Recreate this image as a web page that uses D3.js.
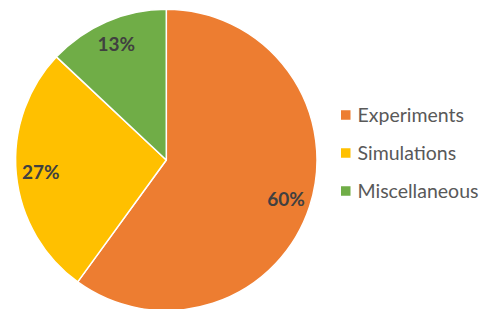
<!DOCTYPE html>
<html><head><meta charset="utf-8">
<script src="https://cdn.jsdelivr.net/npm/d3@7"></script>
<style>body{margin:0;background:#fff}svg{display:block}</style>
</head><body>
<svg id="chart" width="491" height="309"></svg>
<script>
const categories = ["Experiments", "Simulations", "Miscellaneous"];
const values = [60, 27, 13];
const colors = ["#ED7D31", "#FFC000", "#70AD47"];

const svg = d3.select("#chart");
const cx = 166.3, cy = 160, r = 150.7;
const g = svg.append("g").attr("transform", `translate(${cx},${cy})`);

const pie = d3.pie().sort(null).value(d => d.v);
const data = pie(categories.map((c, i) => ({c, v: values[i], col: colors[i]})));
const arc = d3.arc().innerRadius(0).outerRadius(r);
const labelArc = d3.arc().innerRadius(126).outerRadius(126);
const total = d3.sum(values);

g.selectAll("path.slice").data(data).join("path")
  .attr("class", "slice")
  .attr("d", arc)
  .attr("fill", d => d.data.col)
  .attr("stroke", "#fff")
  .attr("stroke-width", 1.5)
  .attr("stroke-linejoin", "round");

g.selectAll("text.lbl").data(data).join("text")
  .attr("class", "lbl")
  .attr("transform", d => `translate(${labelArc.centroid(d)})`)
  .attr("text-anchor", "middle")
  .attr("dy", "0.35em")
  .attr("font-family", "Lato, 'Open Sans', sans-serif")
  .attr("font-weight", "bold")
  .attr("font-size", 19)
  .attr("fill", "#404040")
  .text(d => Math.round(d.data.v / total * 100) + "%");

const legend = svg.append("g").attr("transform", "translate(341,115)");
const rowY = d3.scalePoint().domain(categories).range([0, 76]);
const item = legend.selectAll("g").data(categories).join("g")
  .attr("transform", d => `translate(0,${rowY(d)})`);
item.append("rect").attr("x", 0).attr("y", -4.75).attr("width", 9.5).attr("height", 9.5)
  .attr("fill", (d, i) => colors[i]);
item.append("text").attr("x", 16.5).attr("dy", "0.35em")
  .attr("font-family", "Lato, 'Open Sans', sans-serif")
  .attr("font-size", 19.5)
  .attr("fill", "#595959")
  .text(d => d);
</script>
</body></html>
